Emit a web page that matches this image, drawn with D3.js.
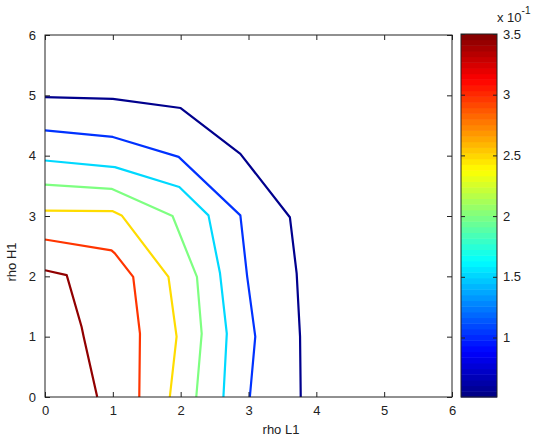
<!DOCTYPE html>
<html>
<head>
<meta charset="utf-8">
<script src="https://cdn.jsdelivr.net/npm/d3@7"></script>
<style>
  body { margin: 0; background: #fff; }
  svg { display: block; font-family: "Liberation Sans", Arial, sans-serif; }
</style>
</head>
<body>
<div id="chart"></div>
<script>
// contour levels (x 10^-1) and the polylines
const levels = [0.55, 1.03, 1.52, 2.0, 2.48, 2.97, 3.45];
const contourNavy   = [[0,4.97],[1,4.94],[2,4.79],[2.88,4.03],[3.61,2.98],[3.71,2.05],[3.76,1.0],[3.77,0]];
const contourBlue   = [[0,4.42],[1,4.31],[1.97,3.98],[2.88,3.01],[2.98,2.0],[3.1,1.0],[3.02,0]];
const contourCyan   = [[0,3.92],[1.03,3.81],[1.98,3.48],[2.41,3.01],[2.58,2.05],[2.68,1.05],[2.63,0]];
const contourGreen  = [[0,3.52],[0.98,3.45],[1.88,3.0],[2.24,1.99],[2.31,1.05],[2.23,0]];
const contourYellow = [[0,3.09],[1.0,3.08],[1.13,3.01],[1.82,1.99],[1.94,1.0],[1.84,0]];
const contourRed    = [[0,2.61],[0.98,2.43],[1.03,2.38],[1.3,1.99],[1.4,1.05],[1.39,0]];
const contourDark   = [[0,2.1],[0.32,2.02],[0.54,1.16],[0.57,1.0],[0.77,0]];
const contours = [contourNavy, contourBlue, contourCyan, contourGreen, contourYellow, contourRed, contourDark];

const axisTicks = [0, 1, 2, 3, 4, 5, 6];
const cbarTicks = [1, 1.5, 2, 2.5, 3, 3.5];
const cbarRange = [0.51, 3.5];

const W = 537, H = 439;
const plot = { left: 45, right: 452, top: 35, bottom: 397 };
const cbar = { left: 461, right: 497, top: 34, bottom: 397 };

// MATLAB jet colormap
const jet = t => {
  const c = v => Math.max(0, Math.min(1, v));
  const r = c(1.5 - Math.abs(4 * t - 3));
  const g = c(1.5 - Math.abs(4 * t - 2));
  const b = c(1.5 - Math.abs(4 * t - 1));
  return d3.rgb(r * 255, g * 255, b * 255).formatHex();
};

const svg = d3.select("#chart").append("svg")
  .attr("width", W).attr("height", H);

const x = d3.scaleLinear().domain([0, 6]).range([plot.left, plot.right]);
const y = d3.scaleLinear().domain([0, 6]).range([plot.bottom, plot.top]);
const c = d3.scaleLinear().domain(cbarRange).range([cbar.bottom, cbar.top]);
const colorOf = v => jet((v - cbarRange[0]) / (cbarRange[1] - cbarRange[0]));
const fmt = d3.format("~g");

// plot box
svg.append("rect")
  .attr("x", plot.left).attr("y", plot.top)
  .attr("width", plot.right - plot.left).attr("height", plot.bottom - plot.top)
  .attr("fill", "#fff");

// contour lines
const line = d3.line().x(d => x(d[0])).y(d => y(d[1]));
svg.append("g").selectAll("path")
  .data(contours)
  .join("path")
  .attr("d", line)
  .attr("fill", "none")
  .attr("stroke", (d, i) => colorOf(levels[i]))
  .attr("stroke-width", 2.2)
  .attr("stroke-linejoin", "round");

// axes (ticks pointing inward, mirrored on top/right)
const tickStyle = g => {
  g.select(".domain").remove();
  g.selectAll("line").attr("stroke", "#222");
  g.selectAll("text").attr("fill", "#222").style("font-size", "13px");
};
svg.append("g").attr("transform", `translate(0,${plot.bottom})`)
  .call(d3.axisBottom(x).tickValues(axisTicks).tickSize(-5).tickPadding(9).tickFormat(fmt))
  .call(tickStyle);
svg.append("g").attr("transform", `translate(0,${plot.top})`)
  .call(d3.axisTop(x).tickValues(axisTicks).tickSize(-5).tickFormat(""))
  .call(tickStyle);
svg.append("g").attr("transform", `translate(${plot.left},0)`)
  .call(d3.axisLeft(y).tickValues(axisTicks).tickSize(-5).tickPadding(9).tickFormat(fmt))
  .call(tickStyle);
svg.append("g").attr("transform", `translate(${plot.right},0)`)
  .call(d3.axisRight(y).tickValues(axisTicks).tickSize(-5).tickFormat(""))
  .call(tickStyle);

svg.append("rect")
  .attr("x", plot.left).attr("y", plot.top)
  .attr("width", plot.right - plot.left).attr("height", plot.bottom - plot.top)
  .attr("fill", "none").attr("stroke", "#222").attr("stroke-width", 1);

// axis labels
svg.append("text")
  .attr("x", 281).attr("y", 434)
  .attr("text-anchor", "middle")
  .style("font-size", "13px").attr("fill", "#222")
  .text("rho L1");
svg.append("text")
  .attr("transform", "translate(16,262) rotate(-90)")
  .attr("text-anchor", "middle")
  .style("font-size", "13px").attr("fill", "#222")
  .text("rho H1");

// colorbar: 64 bands like MATLAB jet(64)
const nBands = 64;
const bandH = (cbar.bottom - cbar.top) / nBands;
svg.append("g").selectAll("rect")
  .data(d3.range(nBands))
  .join("rect")
  .attr("x", cbar.left)
  .attr("y", i => cbar.bottom - (i + 1) * bandH)
  .attr("width", cbar.right - cbar.left)
  .attr("height", bandH + 0.5)
  .attr("fill", i => jet((i + 0.5) / nBands));

svg.append("g").attr("transform", `translate(${cbar.right},0)`)
  .call(d3.axisRight(c).tickValues(cbarTicks).tickSize(-4).tickPadding(6).tickFormat(fmt))
  .call(tickStyle);
svg.append("g").attr("transform", `translate(${cbar.left},0)`)
  .call(d3.axisLeft(c).tickValues(cbarTicks).tickSize(-4).tickFormat(""))
  .call(tickStyle);
svg.append("rect")
  .attr("x", cbar.left).attr("y", cbar.top)
  .attr("width", cbar.right - cbar.left).attr("height", cbar.bottom - cbar.top)
  .attr("fill", "none").attr("stroke", "#222").attr("stroke-width", 1);

// exponent label
const expo = svg.append("text")
  .attr("x", 497).attr("y", 22)
  .style("font-size", "13px").attr("fill", "#222");
expo.append("tspan").text("x 10");
expo.append("tspan").attr("dy", -8).style("font-size", "10px").text("-1");
</script>
</body>
</html>
